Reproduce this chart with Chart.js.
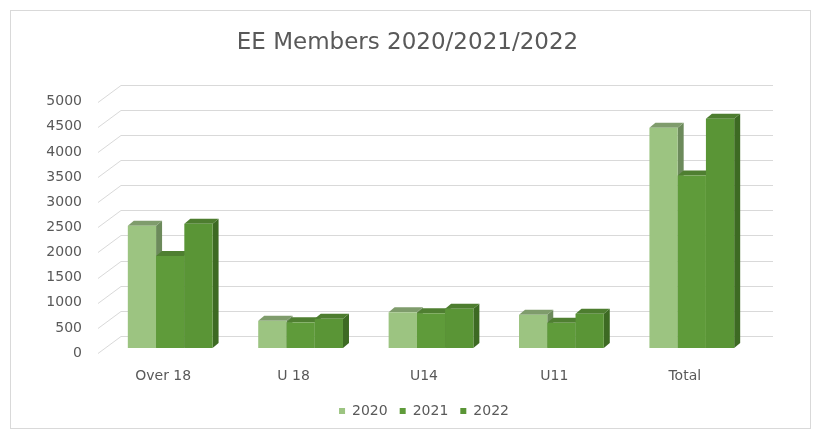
<!DOCTYPE html>
<html>
<head>
<meta charset="utf-8">
<script src="https://cdn.jsdelivr.net/npm/chart.js@4/dist/chart.umd.min.js"></script>
<style>
  html, body { margin: 0; padding: 0; background: #fff; }
  #wrap { width: 815px; height: 434px; }
</style>
</head>
<body>
<div id="wrap"><canvas id="chart" width="815" height="434"></canvas></div>
<script>
const categories = ["Over 18", "U 18", "U14", "U11", "Total"];
const years = ["2020", "2021", "2022"];
const members2020 = [2430, 540, 710, 660, 4380];
const members2021 = [1830, 510, 690, 500, 3430];
const members2022 = [2470, 580, 780, 680, 4560];
const yTicks = [0, 500, 1000, 1500, 2000, 2500, 3000, 3500, 4000, 4500, 5000];

const fronts = ["#9cc481", "#5f9b3a", "#5a9536"];
const tops = ["#7f9c6c", "#4f7f31", "#4d7d2f"];
const sides = ["#6c8a5b", "#447229", "#3d6a23"];

// fake 3d: wall and bar planes are shifted back from the front plane
const wall = { dx: 23, dy: 17 };
const barPlane = { dx: 7, dy: 5 };
const depth = { dx: 6, dy: 5 };

const fake3d = {
  id: "fake3d",
  beforeDraw(chart) {
    const c = chart.ctx;
    c.save();
    c.fillStyle = "#fff";
    c.fillRect(0, 0, chart.width, chart.height);
    c.strokeStyle = "#d9d9d9";
    c.lineWidth = 1;
    c.strokeRect(10.5, 10.5, chart.width - 15, chart.height - 16);
    c.restore();
  },
  beforeDatasetsDraw(chart) {
    const c = chart.ctx;
    const y = chart.scales.y;
    const a = chart.chartArea;
    c.save();
    c.strokeStyle = "#d9d9d9";
    c.lineWidth = 1;
    yTicks.forEach((v) => {
      const py = Math.round(y.getPixelForValue(v)) + 0.5;
      c.beginPath();
      c.moveTo(a.left, py);
      c.lineTo(a.left + wall.dx, py - wall.dy);
      c.lineTo(a.right + wall.dx, py - wall.dy);
      c.stroke();
    });
    c.restore();
  },
  afterDatasetsDraw(chart) {
    const c = chart.ctx;
    c.save();
    categories.forEach((cat, i) => {
      chart.data.datasets.forEach((ds, d) => {
        const bar = chart.getDatasetMeta(d).data[i];
        const l = bar.x - bar.width / 2 + barPlane.dx;
        const r = bar.x + bar.width / 2 + barPlane.dx;
        const t = bar.y - barPlane.dy;
        const b = bar.base - barPlane.dy;
        // side
        c.fillStyle = sides[d];
        c.beginPath();
        c.moveTo(r, t);
        c.lineTo(r + depth.dx, t - depth.dy);
        c.lineTo(r + depth.dx, b - depth.dy);
        c.lineTo(r, b);
        c.closePath();
        c.fill();
        // top
        c.fillStyle = tops[d];
        c.beginPath();
        c.moveTo(l, t);
        c.lineTo(l + depth.dx, t - depth.dy);
        c.lineTo(r + depth.dx, t - depth.dy);
        c.lineTo(r, t);
        c.closePath();
        c.fill();
        // front
        c.fillStyle = fronts[d];
        c.fillRect(l, t, r - l, b - t);
      });
    });
    c.restore();
  },
};

const font = "DejaVu Sans";
const ctx = document.getElementById("chart").getContext("2d");
const myChart = new Chart(ctx, {
  type: "bar",
  data: {
    labels: categories,
    datasets: [
      { label: years[0], data: members2020, backgroundColor: "rgba(0,0,0,0)" },
      { label: years[1], data: members2021, backgroundColor: "rgba(0,0,0,0)" },
      { label: years[2], data: members2022, backgroundColor: "rgba(0,0,0,0)" },
    ],
  },
  options: {
    responsive: false,
    animation: false,
    events: [],
    layout: { padding: { left: 0, right: 0, top: 0, bottom: 6 } },
    datasets: { bar: { categoryPercentage: 0.65, barPercentage: 1.0 } },
    scales: {
      x: {
        grid: { display: false, drawTicks: false },
        border: { display: false },
        ticks: { color: "#595959", font: { family: font, size: 14 }, padding: 15 },
        afterFit(scale) { scale.height = 39; },
      },
      y: {
        min: 0,
        max: 5000,
        grid: { display: false, drawTicks: false },
        border: { display: false },
        ticks: {
          stepSize: 500,
          color: "#595959",
          font: { family: font, size: 14 },
          padding: 16,
          callback: (v) => String(v),
        },
        afterFit(scale) { scale.width = 98; },
      },
      // empty right-hand axis, only keeps room for the back wall
      yRight: {
        position: "right",
        min: 0,
        max: 5000,
        grid: { display: false, drawTicks: false },
        border: { display: false },
        ticks: { display: false },
        afterFit(scale) { scale.width = 65; },
      },
    },
    plugins: {
      title: {
        display: true,
        text: "EE Members 2020/2021/2022",
        color: "#595959",
        font: { family: font, size: 23, weight: "normal" },
        padding: { top: 29, bottom: 45 },
      },
      legend: {
        position: "bottom",
        fullSize: false,
        labels: {
          color: "#595959",
          font: { family: font, size: 14 },
          boxWidth: 6,
          boxHeight: 6,
          padding: 12,
          generateLabels(chart) {
            return chart.data.datasets.map((ds, i) => ({
              text: ds.label,
              fillStyle: fronts[i],
              strokeStyle: fronts[i],
              lineWidth: 0,
              fontColor: "#595959",
              datasetIndex: i,
            }));
          },
        },
      },
      tooltip: { enabled: false },
    },
  },
  plugins: [fake3d],
});
</script>
</body>
</html>
